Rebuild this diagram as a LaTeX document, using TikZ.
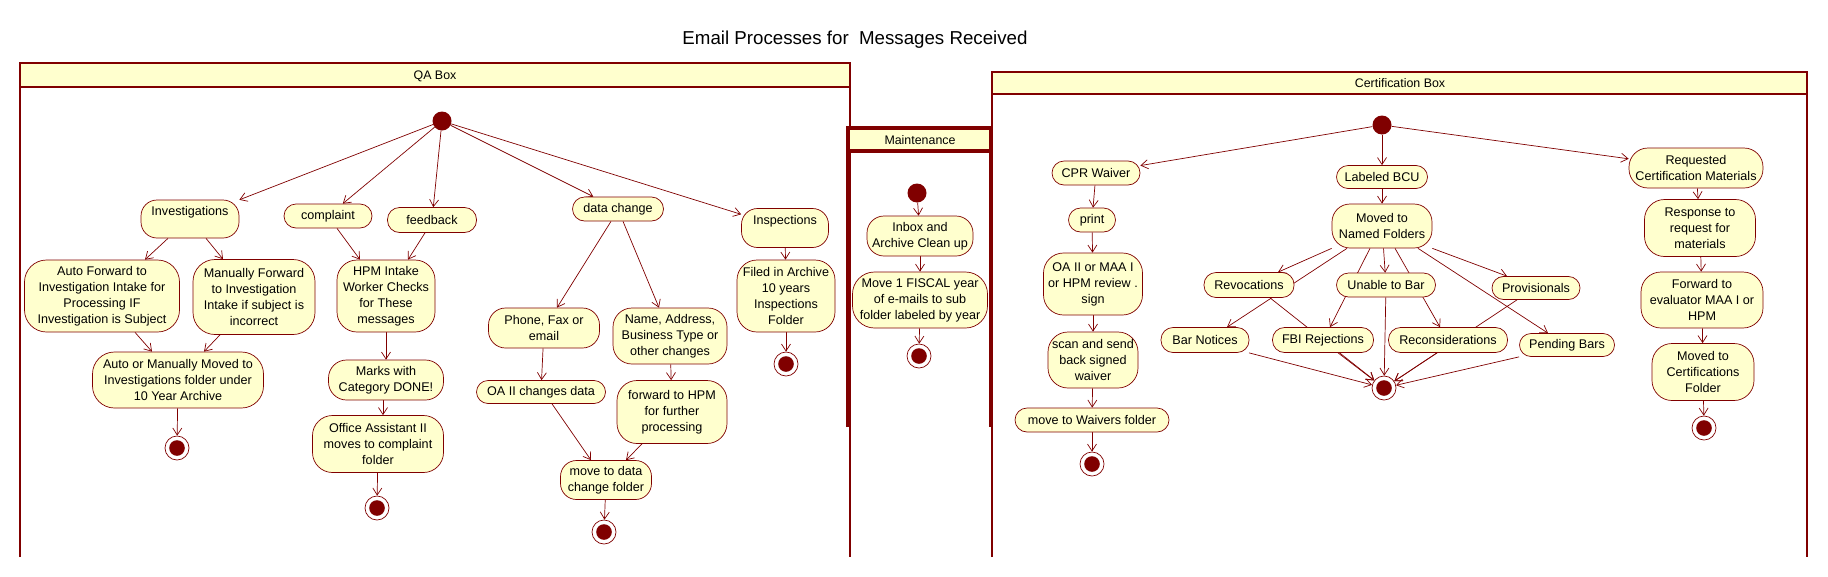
\documentclass[tikz,border=0pt]{standalone}
\usepackage{fontspec}
\setmainfont{Liberation Sans}
\usetikzlibrary{arrows.meta,calc}
\definecolor{dred}{RGB}{128,0,0}
\definecolor{actfill}{RGB}{255,255,206}
\pgfdeclarelayer{frames}
\pgfdeclarelayer{edges}
\pgfsetlayers{frames,edges,main}
\tikzset{
  act/.style={draw=dred, fill=actfill, line width=0.7pt, rounded corners=12pt, align=center,
    inner sep=0pt, font=\fontsize{12.6}{16}\selectfont},
  actb/.style={act, rounded corners=17pt},
  initn/.style={circle, fill=dred, minimum size=19pt, inner sep=0pt},
  finaln/.style={circle, draw=dred, line width=0.7pt, fill=white, minimum size=24pt, inner sep=0pt,
    path picture={\fill[dred] (path picture bounding box.center) circle (7.8pt);}},
  arr/.style={draw=dred, line width=0.7pt, -{Straight Barb[length=7pt,width=9pt]}},
  frame/.style={draw=dred, line width=2.2pt},
  mframe/.style={draw=dred, line width=3.6pt},
  hdr/.style={font=\fontsize{12.4}{15}\selectfont, inner sep=0pt}
}
\begin{document}
\begin{tikzpicture}[x=1pt,y=-1pt]
\useasboundingbox (0,0) rectangle (1828,576);
\begin{pgfonlayer}{frames}
\fill[white] (0,0) rectangle (1828,576);
% QA frame
\draw[frame] (20,557) -- (20,63) -- (850,63) -- (850,557);
\draw[frame, fill=actfill] (20,63) rectangle (850,87);
% Certification frame
\draw[frame] (992,557) -- (992,72) -- (1807,72) -- (1807,557);
\draw[frame, fill=actfill] (992,72) rectangle (1807,94);
% Maintenance frame
\draw[mframe] (848,427) -- (848,128) -- (991,128) -- (991,427);
\draw[mframe, fill=actfill] (848,128) rectangle (991,151);
\end{pgfonlayer}

\node[font=\fontsize{18.7}{22}\selectfont] (title) at (855,40) {Email Processes for\ \ Messages Received};
\node[hdr] (qahdr) at (435,76) {QA Box};
\node[hdr] (certhdr) at (1400,83) {Certification Box};
\node[hdr] (mainthdr) at (920,140) {Maintenance};

% ---- QA box nodes
\node[initn] (qinit) at (442,121) {};
\node[act, minimum width=98pt, minimum height=38pt, rounded corners=16pt] (inv) at (190,219) {Investigations\\\mbox{}};
\node[act, minimum width=88pt, minimum height=24pt] (compl) at (328,216) {complaint};
\node[act, minimum width=89pt, minimum height=25pt] (feed) at (432,220) {feedback};
\node[act, minimum width=91pt, minimum height=24pt] (datach) at (618,209) {data change};
\node[act, minimum width=87pt, minimum height=39pt, rounded corners=16pt] (insp) at (785,228) {Inspections\\\mbox{}};
\node[actb, minimum width=155pt, minimum height=72pt, rounded corners=22pt] (autof) at (102,296) {Auto Forward to\\Investigation Intake for\\Processing IF\\Investigation is Subject};
\node[actb, minimum width=122pt, minimum height=75pt, rounded corners=22pt] (manf) at (254,297) {Manually Forward\\to Investigation\\Intake if subject is\\incorrect};
\node[actb, minimum width=98pt, minimum height=72pt, rounded corners=20pt] (hpm) at (386,296) {HPM Intake\\Worker Checks\\for These\\messages};
\node[actb, minimum width=98pt, minimum height=72pt, rounded corners=20pt] (filed) at (786,296) {Filed in Archive\\10 years\\Inspections\\Folder};
\node[act, minimum width=111pt, minimum height=40pt, rounded corners=17pt] (phone) at (544,328) {Phone, Fax or\\email};
\node[actb, minimum width=114pt, minimum height=56pt, rounded corners=19pt] (name) at (670,336) {Name, Address,\\Business Type or\\other changes};
\node[actb, minimum width=171pt, minimum height=56pt, rounded corners=22pt] (automv) at (178,380) {Auto or Manually Moved to\\Investigations folder under\\10 Year Archive};
\node[act, minimum width=115pt, minimum height=40pt, rounded corners=18pt] (marks) at (386,380) {Marks with\\Category DONE!};
\node[act, minimum width=129pt, minimum height=23pt, rounded corners=11.5pt] (oaii) at (541,392) {OA II changes data};
\node[actb, minimum width=110pt, minimum height=63pt, rounded corners=20pt] (fwdhpm) at (672,412) {forward to HPM\\for further\\processing};
\node[actb, minimum width=131pt, minimum height=57pt, rounded corners=20pt] (office) at (378,444) {Office Assistant II\\moves to complaint\\folder};
\node[act, minimum width=91pt, minimum height=39pt, rounded corners=16pt] (movedata) at (606,480) {move to data\\change folder};
\node[finaln] (qf1) at (177,448) {};
\node[finaln] (qf2) at (377,508) {};
\node[finaln] (qf3) at (604,532) {};
\node[finaln] (qf4) at (786,364) {};

% ---- Maintenance nodes
\node[initn] (minit) at (917,193) {};
\node[act, minimum width=106pt, minimum height=40pt, rounded corners=17pt] (inbox) at (920,236) {Inbox and\\Archive Clean up};
\node[actb, minimum width=135pt, minimum height=56pt, rounded corners=22pt] (move1) at (920,300) {Move 1 FISCAL year\\of e-mails to sub\\folder labeled by year};
\node[finaln] (mf) at (919,356) {};

% ---- Certification nodes
\node[initn] (cinit) at (1382,125) {};
\node[act, minimum width=88pt, minimum height=24pt] (cpr) at (1096,173) {CPR Waiver};
\node[act, minimum width=91pt, minimum height=23pt, rounded corners=11.5pt] (bcu) at (1382,177) {Labeled BCU};
\node[act, minimum width=134pt, minimum height=40pt, rounded corners=19pt] (req) at (1696,168) {Requested\\Certification Materials};
\node[act, minimum width=47pt, minimum height=24pt] (print) at (1092,220) {print};
\node[act, minimum width=100pt, minimum height=44pt, rounded corners=18pt] (named) at (1382,226) {Moved to\\Named Folders};
\node[actb, minimum width=111pt, minimum height=57pt, rounded corners=20pt] (resp) at (1700,228) {Response to\\request for\\materials};
\node[actb, minimum width=99pt, minimum height=62pt, rounded corners=20pt] (oaiim) at (1093,284) {OA II or MAA I\\or HPM review .\\sign};
\node[act, minimum width=90pt, minimum height=25pt] (revoc) at (1249,285) {Revocations};
\node[act, minimum width=99pt, minimum height=24pt] (unable) at (1386,285) {Unable to Bar};
\node[act, minimum width=88pt, minimum height=23pt, rounded corners=11.5pt] (provis) at (1536,288) {Provisionals};
\node[actb, minimum width=122pt, minimum height=56pt, rounded corners=20pt] (fwdeval) at (1702,300) {Forward to\\evaluator MAA I or\\HPM};
\node[act, minimum width=88pt, minimum height=25pt] (bar) at (1205,340) {Bar Notices};
\node[act, minimum width=101pt, minimum height=25pt] (fbi) at (1323,340) {FBI Rejections};
\node[act, minimum width=119pt, minimum height=25pt] (recon) at (1448,340) {Reconsiderations};
\node[act, minimum width=95pt, minimum height=23pt, rounded corners=11.5pt] (pend) at (1567,345) {Pending Bars};
\node[actb, minimum width=90pt, minimum height=56pt, rounded corners=20pt] (scan) at (1093,360) {scan and send\\back signed\\waiver};
\node[actb, minimum width=102pt, minimum height=57pt, rounded corners=20pt] (movcert) at (1703,372) {Moved to\\Certifications\\Folder};
\node[act, minimum width=154pt, minimum height=24pt] (movwaiv) at (1092,420) {move to Waivers folder};
\node[finaln] (cf) at (1384,388) {};
\node[finaln] (cwf) at (1092,464) {};
\node[finaln] (crf) at (1704,428) {};

\begin{pgfonlayer}{edges}
% QA
\draw[arr] (qinit) -- (inv);
\draw[arr] (qinit) -- (compl);
\draw[arr] (qinit) -- (feed);
\draw[arr] (qinit) -- (datach);
\draw[arr] (qinit) -- (insp);
\draw[arr] ([xshift=-22pt]inv.south) -- ([xshift=43pt]autof.north);
\draw[arr] ([xshift=16pt]inv.south) -- ([xshift=-31pt]manf.north);
\draw[arr] ([xshift=33pt]autof.south) -- ([xshift=-26pt]automv.north);
\draw[arr] ([xshift=-34pt]manf.south) -- ([xshift=26pt]automv.north);
\draw[arr] (automv) -- (qf1);
\draw[arr] ([xshift=9pt]compl.south) -- ([xshift=-26pt]hpm.north);
\draw[arr] ([xshift=-7pt]feed.south) -- ([xshift=22pt]hpm.north);
\draw[arr] (hpm) -- (marks);
\draw[arr] ([xshift=-3pt]marks.south) -- ([xshift=5pt]office.north);
\draw[arr] (office) -- (qf2);
\draw[arr] ([xshift=-7pt]datach.south) -- ([xshift=13pt]phone.north);
\draw[arr] ([xshift=5pt]datach.south) -- ([xshift=-11pt]name.north);
\draw[arr] (phone) -- (oaii);
\draw[arr] (name) -- (fwdhpm);
\draw[arr] ([xshift=11pt]oaii.south) -- ([xshift=-15pt]movedata.north);
\draw[arr] ([xshift=-30pt]fwdhpm.south) -- ([xshift=20pt]movedata.north);
\draw[arr] (movedata) -- (qf3);
\draw[arr] (insp) -- (filed);
\draw[arr] (filed) -- (qf4);
% Maintenance
\draw[arr] (minit) -- (inbox);
\draw[arr] (inbox) -- (move1);
\draw[arr] (move1) -- (mf);
% Certification
\draw[arr] (cinit) -- (cpr);
\draw[arr] (cinit) -- (bcu);
\draw[arr] (cinit) -- (req);
\draw[arr] (cpr) -- (print);
\draw[arr] (print) -- (oaiim);
\draw[arr] (oaiim) -- (scan);
\draw[arr] (scan) -- (movwaiv);
\draw[arr] (movwaiv) -- (cwf);
\draw[arr] (bcu) -- (named);
\draw[arr] (named.south west) -- ([xshift=29pt]revoc.north);
\draw[arr] ([xshift=-35pt]named.south) -- ([xshift=22pt]bar.north);
\draw[arr] ([xshift=-12pt]named.south) -- ([xshift=7pt]fbi.north);
\draw[arr] (named) -- (unable);
\draw[arr] ([xshift=13pt]named.south) -- ([xshift=-8pt]recon.north);
\draw[arr] ([xshift=36pt]named.south) -- ([xshift=-19pt]pend.north);
\draw[arr] (named.south east) -- ([xshift=-29pt]provis.north);
\draw[arr] ([xshift=21pt]revoc.south) -- (cf);
\draw[arr] ([xshift=44pt]bar.south) -- (cf);
\draw[arr] ([xshift=15pt]fbi.south) -- (cf);
\draw[arr] (unable) -- (cf);
\draw[arr] ([xshift=-11pt]recon.south) -- (cf);
\draw[arr] ([xshift=-19pt]provis.south) -- (cf);
\draw[arr] (pend.south west) -- (cf);
\draw[arr] (req) -- (resp);
\draw[arr] (resp) -- (fwdeval);
\draw[arr] (fwdeval) -- (movcert);
\draw[arr] (movcert) -- (crf);
\end{pgfonlayer}
\end{tikzpicture}
\end{document}
